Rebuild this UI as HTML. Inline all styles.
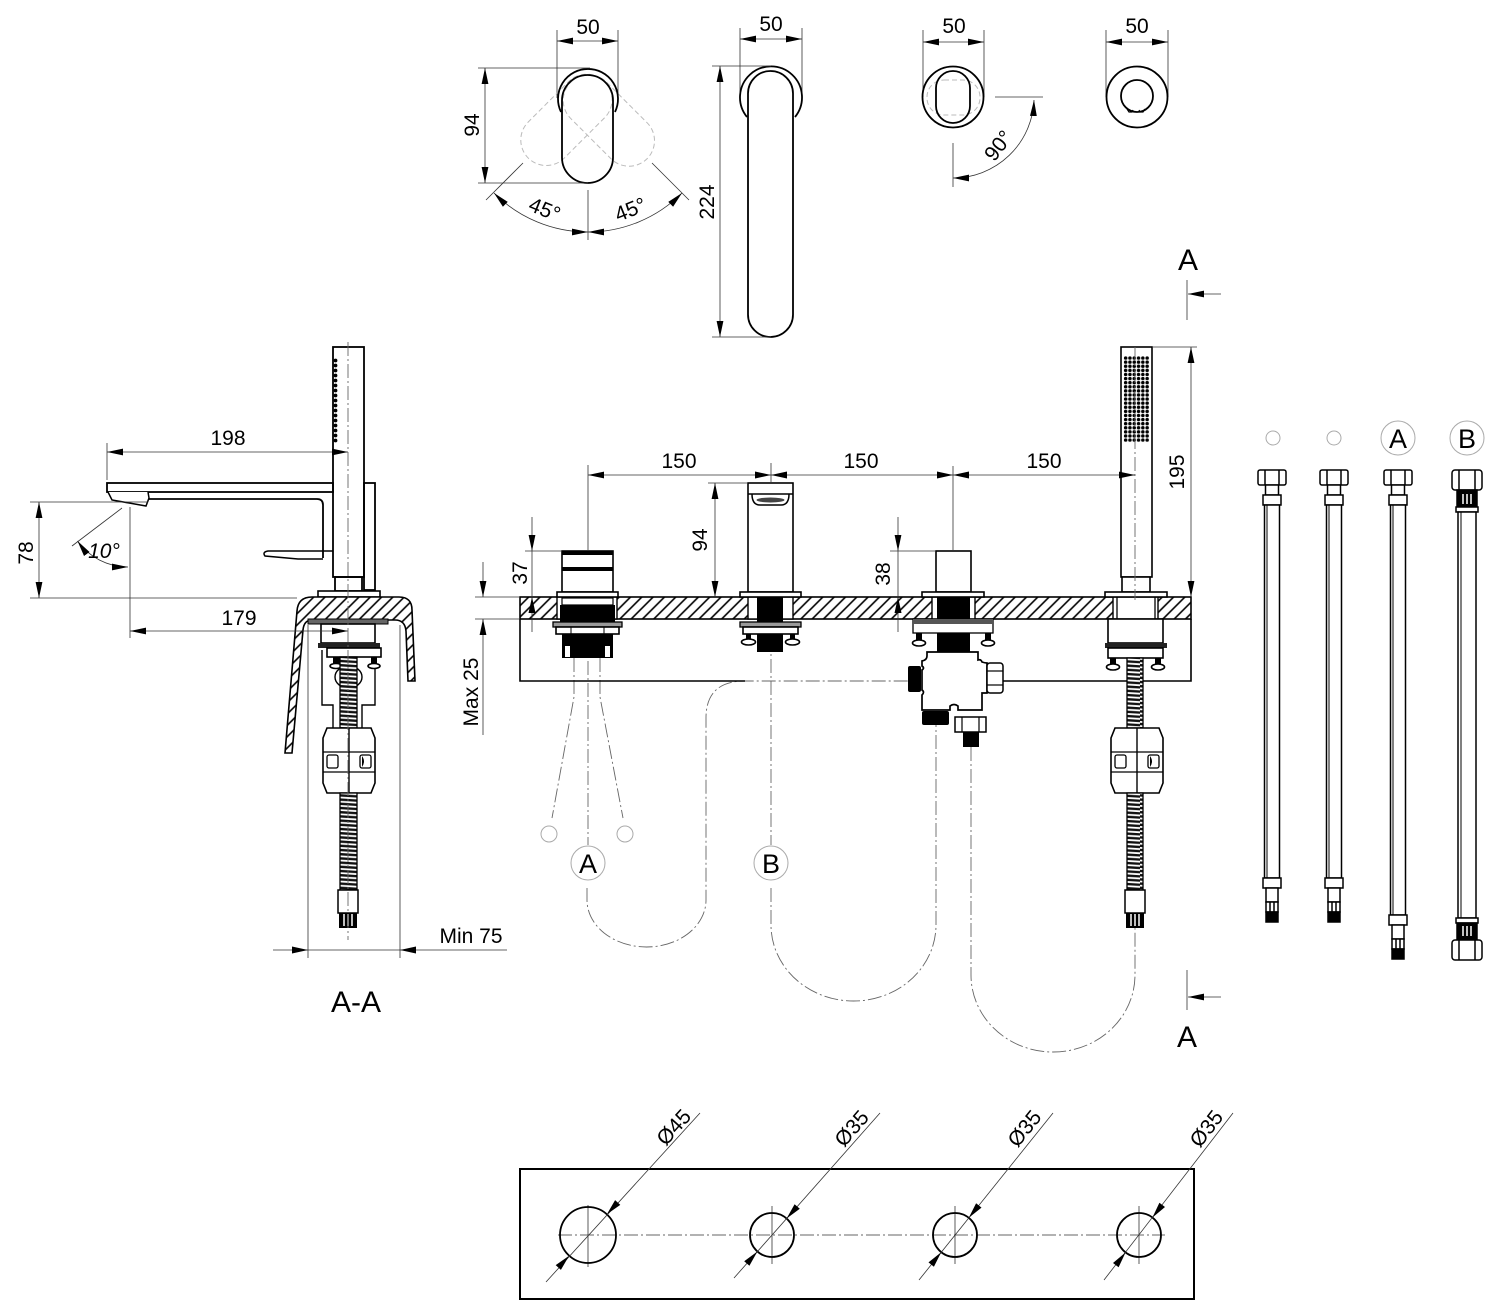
<!DOCTYPE html>
<html><head><meta charset="utf-8"><style>
html,body{margin:0;padding:0;background:#fff}
svg{display:block}
text{font-family:"Liberation Sans",Arial,sans-serif;font-size:21px;fill:#000}
.o{fill:none;stroke:#000;stroke-width:1.8}
.w{fill:#fff;stroke:#000;stroke-width:1.6}
.t{fill:none;stroke:#333;stroke-width:0.8}
.d{fill:none;stroke:#666;stroke-width:0.9;stroke-dasharray:14 3 2 3}
.g{fill:none;stroke:#aaa;stroke-width:1}
.gd{fill:none;stroke:#bbb;stroke-width:1;stroke-dasharray:5 3}
.k{fill:#000}
</style></head><body>
<svg width="1500" height="1301" viewBox="0 0 1500 1301" xmlns="http://www.w3.org/2000/svg">
<defs>
<marker id="a" viewBox="0 0 16 8" refX="16" refY="4" markerWidth="16" markerHeight="8" markerUnits="userSpaceOnUse" orient="auto-start-reverse"><path d="M0,0.6 L16,4 L0,7.4z" fill="#000"/></marker>
<pattern id="h" width="8" height="8" patternUnits="userSpaceOnUse" patternTransform="rotate(45)"><rect width="8" height="8" fill="#fff"/><line x1="4" y1="0" x2="4" y2="8" stroke="#000" stroke-width="1.6"/></pattern>
<pattern id="c" width="20" height="4.2" patternUnits="userSpaceOnUse"><rect width="20" height="4.2" fill="#fff"/><path d="M0,0.4 L20,1.6 L20,4 L0,2.8z" fill="#111"/></pattern>
<pattern id="dt" x="1123.5" y="356" width="4.3" height="4.1" patternUnits="userSpaceOnUse"><circle cx="2.15" cy="2.05" r="1.75" fill="#000"/></pattern>
<pattern id="dt2" x="333" y="358" width="5" height="5" patternUnits="userSpaceOnUse"><circle cx="2.5" cy="2.5" r="1.9" fill="#000"/></pattern>
<g id="barrel">
<path d="M-22,728 H22 L26,738 V783 L22,793 H-22 L-26,783 V738 Z" fill="#fff" stroke="#000" stroke-width="1.6"/>
<line x1="0" y1="728" x2="0" y2="793" stroke="#000" stroke-width="1.4"/>
<line x1="-26" y1="752" x2="26" y2="752" stroke="#000" stroke-width="1.3"/>
<line x1="-26" y1="772" x2="26" y2="772" stroke="#000" stroke-width="1.3"/>
<rect x="-22" y="755" width="11" height="13" rx="2" fill="#fff" stroke="#000" stroke-width="1.3"/>
<rect x="11" y="755" width="11" height="13" rx="2" fill="#fff" stroke="#000" stroke-width="1.3"/>
<path d="M13,756 Q17,761.5 13,767 Z" fill="#000"/>
</g>
<g id="endfit">
<rect x="-10" y="890" width="20" height="23" fill="#fff" stroke="#000" stroke-width="1.5"/>
<rect x="-9" y="913" width="18" height="15" fill="#000"/>
<line x1="-4" y1="914" x2="-4" y2="926" stroke="#fff" stroke-width="1.5"/>
<line x1="0" y1="914" x2="0" y2="926" stroke="#fff" stroke-width="1.5"/>
<line x1="4" y1="914" x2="4" y2="926" stroke="#fff" stroke-width="1.5"/>
</g>
<g id="htop" fill="#fff" stroke="#000" stroke-width="1.5">
<rect x="-14" y="470" width="28" height="15" rx="2"/>
<line x1="-7" y1="470" x2="-7" y2="485"/><line x1="7" y1="470" x2="7" y2="485"/>
<rect x="-6.5" y="485" width="13" height="10"/>
<rect x="-9" y="495" width="18" height="10"/>
</g>
<g id="hbot" fill="#fff" stroke="#000" stroke-width="1.5">
<rect x="-9" y="0" width="18" height="10"/>
<rect x="-6" y="10" width="12" height="14"/>
<rect x="-6" y="24" width="12" height="10"/>
<line x1="-2" y1="24" x2="-2" y2="34"/><line x1="2" y1="24" x2="2" y2="34"/>
<rect x="-6" y="34" width="12" height="10" fill="#000"/>
</g>
</defs>

<!-- ============ TOP VIEWS ============ -->
<line class="t" x1="557" y1="30" x2="557" y2="98"/>
<line class="t" x1="618" y1="30" x2="618" y2="98"/>
<line class="t" x1="557" y1="41" x2="618" y2="41" marker-start="url(#a)" marker-end="url(#a)"/>
<text x="588" y="34" text-anchor="middle">50</text>
<rect class="gd" x="562" y="75" width="51" height="108" rx="25.5" transform="rotate(45 588 99)"/>
<rect class="gd" x="562" y="75" width="51" height="108" rx="25.5" transform="rotate(-45 588 99)"/>
<path class="o" d="M561,112 A30,30 0 1 1 615,112"/>
<rect class="o" x="562" y="75" width="51" height="108" rx="25.5"/>
<line class="t" x1="478" y1="68" x2="590" y2="68"/>
<line class="t" x1="478" y1="183" x2="588" y2="183"/>
<line class="t" x1="485" y1="68" x2="485" y2="183" marker-start="url(#a)" marker-end="url(#a)"/>
<text transform="translate(479,125) rotate(-90)" text-anchor="middle">94</text>
<line class="t" x1="523" y1="163" x2="486" y2="200"/>
<line class="t" x1="652" y1="163" x2="689" y2="200"/>
<line class="t" x1="588" y1="190" x2="588" y2="240"/>
<path class="t" d="M494,193 A133,133 0 0 0 588,232" marker-start="url(#a)" marker-end="url(#a)"/>
<path class="t" d="M588,232 A133,133 0 0 0 682,193" marker-start="url(#a)" marker-end="url(#a)"/>
<text transform="translate(542,216) rotate(22)" text-anchor="middle">45°</text>
<text transform="translate(633,216) rotate(-22)" text-anchor="middle">45°</text>

<line class="t" x1="740" y1="28" x2="740" y2="96"/>
<line class="t" x1="802" y1="28" x2="802" y2="96"/>
<line class="t" x1="740" y1="39" x2="802" y2="39" marker-start="url(#a)" marker-end="url(#a)"/>
<text x="771" y="31" text-anchor="middle">50</text>
<path class="o" d="M747,117 A31,31 0 1 1 795,117"/>
<rect class="o" x="748" y="71" width="45" height="266" rx="22.5"/>
<line class="t" x1="712" y1="66" x2="771" y2="66"/>
<line class="t" x1="712" y1="337" x2="771" y2="337"/>
<line class="t" x1="720" y1="66" x2="720" y2="337" marker-start="url(#a)" marker-end="url(#a)"/>
<text transform="translate(714,202) rotate(-90)" text-anchor="middle">224</text>

<line class="t" x1="923" y1="30" x2="923" y2="97"/>
<line class="t" x1="984" y1="30" x2="984" y2="97"/>
<line class="t" x1="923" y1="42" x2="984" y2="42" marker-start="url(#a)" marker-end="url(#a)"/>
<text x="954" y="33" text-anchor="middle">50</text>
<circle class="o" cx="953" cy="97" r="30.5"/>
<rect class="gd" x="927" y="80" width="53" height="35" rx="17"/>
<rect class="o" x="936" y="71" width="34" height="52" rx="17"/>
<line class="t" x1="995" y1="97" x2="1043" y2="97"/>
<line class="t" x1="953" y1="143" x2="953" y2="187"/>
<path class="t" d="M1034,100 A81,81 0 0 1 953,178" marker-start="url(#a)" marker-end="url(#a)"/>
<text transform="translate(1004,150) rotate(-52)" text-anchor="middle">90°</text>

<line class="t" x1="1106" y1="30" x2="1106" y2="97"/>
<line class="t" x1="1168" y1="30" x2="1168" y2="97"/>
<line class="t" x1="1106" y1="42" x2="1168" y2="42" marker-start="url(#a)" marker-end="url(#a)"/>
<text x="1137" y="33" text-anchor="middle">50</text>
<circle class="o" cx="1137" cy="97" r="30.5"/>
<circle class="o" cx="1137" cy="96" r="16" stroke-width="1.5"/>
<path d="M1127,109 l2,3 h3 l1,-2 M1139,110 l1,2 h3 l2,-3" fill="none" stroke="#000" stroke-width="1.2"/>

<text x="1188" y="270" text-anchor="middle" style="font-size:30px">A</text>
<line class="t" x1="1187" y1="280" x2="1187" y2="320"/>
<line class="t" x1="1221" y1="294" x2="1188" y2="294" marker-end="url(#a)"/>
<line class="t" x1="1187" y1="970" x2="1187" y2="1010"/>
<line class="t" x1="1221" y1="997" x2="1188" y2="997" marker-end="url(#a)"/>
<text x="1187" y="1047" text-anchor="middle" style="font-size:30px">A</text>

<!-- ============ SECTION A-A ============ -->
<rect class="o" x="333" y="347" width="31" height="230" stroke-width="1.6"/>
<rect class="o" x="335" y="577" width="27" height="14" stroke-width="1.5"/>
<rect x="333" y="358" width="5" height="85" fill="url(#dt2)"/>
<rect class="o" x="364" y="483" width="11" height="107" stroke-width="1.5"/>
<rect class="o" x="107" y="483" width="226" height="9" stroke-width="1.6"/>
<path class="o" d="M148,499 H317 Q323,499 323,505 V558" stroke-width="1.5"/>
<path d="M108,492 L112,500 L146,506 L149,498 L148,492" fill="#fff" stroke="#000" stroke-width="1.5"/>
<path d="M333,551 H268 Q262,552 265,556 L298,559 H323" fill="none" stroke="#000" stroke-width="1.5"/>

<line class="t" x1="107" y1="443" x2="107" y2="480"/>
<line class="t" x1="107" y1="452" x2="348" y2="452" marker-start="url(#a)" marker-end="url(#a)"/>
<text x="228" y="445" text-anchor="middle">198</text>
<line class="t" x1="30" y1="502" x2="148" y2="502"/>
<line class="t" x1="30" y1="598" x2="297" y2="598"/>
<line class="t" x1="39" y1="502" x2="39" y2="598" marker-start="url(#a)" marker-end="url(#a)"/>
<text transform="translate(33,553) rotate(-90)" text-anchor="middle">78</text>
<line class="t" x1="122" y1="508" x2="72" y2="546"/>
<path class="t" d="M77.5,541 A62,62 0 0 0 128,567" marker-start="url(#a)" marker-end="url(#a)"/>
<text x="104" y="558" text-anchor="middle" style="font-style:italic">10°</text>
<line class="t" x1="130" y1="507" x2="130" y2="638"/>

<rect class="w" x="318" y="591" width="62" height="6" stroke-width="1.3"/>
<path d="M285,753 L297,611 Q298,597 312,597 L399,597 Q412,597 412,610 L415,681 L408,681 L406,631 Q405,620 395,620 L312,620 Q304,620 303,630 L292,753 Z" fill="url(#h)" stroke="#000" stroke-width="1.6"/>
<rect x="308" y="619" width="80" height="5" fill="#666" stroke="#000" stroke-width="1"/>
<rect class="w" x="321" y="624" width="54" height="19" stroke-width="1.5"/>
<rect x="318" y="643" width="62" height="5" fill="#222"/>
<rect class="w" x="327" y="648" width="54" height="9" stroke-width="1.3"/>
<path d="M322,650 V705 H333 V728 M375,658 V705 H362 V728" fill="none" stroke="#000" stroke-width="1.4"/>
<rect x="333" y="657" width="7" height="7" fill="#000"/><ellipse cx="336" cy="666" rx="6" ry="2.5" class="w" stroke-width="1.2"/>
<rect x="371" y="657" width="6" height="7" fill="#000"/><ellipse cx="374" cy="666" rx="6" ry="2.5" class="w" stroke-width="1.2"/>
<ellipse cx="348.5" cy="677" rx="13.5" ry="11" fill="none" stroke="#000" stroke-width="1.4"/>
<rect x="340" y="657" width="17" height="71" fill="url(#c)" stroke="#000" stroke-width="1.3"/>
<use href="#barrel" x="349"/>
<rect x="340" y="793" width="17" height="97" fill="url(#c)" stroke="#000" stroke-width="1.3"/>
<use href="#endfit" x="348"/>
<line class="t" x1="130" y1="631" x2="348" y2="631" marker-start="url(#a)" marker-end="url(#a)"/>
<text x="239" y="625" text-anchor="middle">179</text>
<line class="d" x1="348" y1="342" x2="348" y2="940"/>
<line class="t" x1="308" y1="625" x2="308" y2="958"/>
<line class="t" x1="400" y1="625" x2="400" y2="958"/>
<line class="t" x1="273" y1="950" x2="507" y2="950"/>
<path d="M308,950 L292,946.5 L292,953.5z M400,950 L416,946.5 L416,953.5z" fill="#000"/>
<text x="471" y="943" text-anchor="middle">Min 75</text>
<text x="356" y="1012" text-anchor="middle" style="font-size:30px">A-A</text>

<!-- ============ MAIN DECK ============ -->
<path class="d" d="M587,888 L587,900 A59.5,47 0 0 0 706,900 L706,718 Q706,681 745,681 H908"/>
<path class="d" d="M771,888 L771,925 A82.5,76 0 0 0 936,925 L936,725"/>
<path class="d" d="M971,747 L971,975 A82,77 0 0 0 1135,975 L1135,928"/>
<path class="d" d="M574,658 V697 L552,818 M600,658 V697 L623,818"/>
<line class="d" x1="588" y1="551" x2="588" y2="845"/>
<line class="d" x1="771" y1="483" x2="771" y2="845"/>
<line class="d" x1="953" y1="551" x2="953" y2="652"/>
<circle class="g" cx="549" cy="834" r="8"/>
<circle class="g" cx="625" cy="834" r="8"/>
<circle class="g" cx="588" cy="863" r="17"/>
<text x="588" y="873" text-anchor="middle" style="font-size:27px">A</text>
<circle class="g" cx="771" cy="863" r="17"/>
<text x="771" y="873" text-anchor="middle" style="font-size:27px">B</text>

<path d="M520,619 V681 H745 M1003,681 H1191 V619" fill="none" stroke="#000" stroke-width="1.6"/>
<rect x="520" y="597" width="671" height="22" fill="url(#h)" stroke="#000" stroke-width="1.6"/>
<rect x="557" y="597" width="60" height="22" fill="#fff" stroke="#000" stroke-width="1.4"/>
<rect x="748" y="597" width="45" height="22" fill="#fff" stroke="#000" stroke-width="1.4"/>
<rect x="932" y="597" width="43" height="22" fill="#fff" stroke="#000" stroke-width="1.4"/>
<rect x="1113" y="597" width="45" height="22" fill="#fff" stroke="#000" stroke-width="1.4"/>

<rect class="w" x="562" y="551" width="51" height="41"/>
<rect x="562" y="551" width="51" height="4" fill="#000"/>
<rect x="562" y="567" width="51" height="4" fill="#000"/>
<rect class="w" x="557" y="592" width="61" height="5" stroke-width="1.4"/>
<rect x="562" y="598" width="51" height="7" fill="#fff" stroke="#000" stroke-width="1.2"/>
<rect x="560" y="605" width="55" height="17" fill="#000"/>
<rect x="553" y="622" width="69" height="5" fill="#999" stroke="#000" stroke-width="1.3"/>
<rect class="w" x="556" y="627" width="63" height="7" stroke-width="1.3"/>
<line x1="571" y1="627" x2="571" y2="634" stroke="#000"/><line x1="604" y1="627" x2="604" y2="634" stroke="#000"/>
<rect x="562" y="634" width="51" height="24" fill="#000"/>
<rect x="565" y="646" width="5" height="11" fill="#fff"/>
<rect x="605" y="646" width="5" height="11" fill="#fff"/>

<rect class="w" x="748" y="483" width="45" height="109"/>
<line x1="748" y1="494" x2="793" y2="494" stroke="#000" stroke-width="1.5"/>
<path d="M752,494 Q752,505 760,505 H781 Q789,505 789,494" fill="none" stroke="#000" stroke-width="1.5"/>
<ellipse cx="770.5" cy="500" rx="14" ry="2.5" fill="#444"/>
<rect class="w" x="740" y="592" width="61" height="5" stroke-width="1.4"/>
<rect x="757" y="597" width="26" height="25" fill="#000"/>
<rect x="740" y="622" width="61" height="5" fill="#999" stroke="#000" stroke-width="1.3"/>
<rect class="w" x="743" y="627" width="55" height="7" stroke-width="1.3"/>
<rect x="757" y="634" width="26" height="18" fill="#000"/>
<rect x="746" y="634" width="5" height="6" fill="#000"/><ellipse cx="748.5" cy="642" rx="7" ry="3" class="w" stroke-width="1.2"/>
<rect x="790" y="634" width="5" height="6" fill="#000"/><ellipse cx="792.5" cy="642" rx="7" ry="3" class="w" stroke-width="1.2"/>

<rect class="w" x="936" y="551" width="35" height="41"/>
<rect class="w" x="922" y="592" width="62" height="5" stroke-width="1.4"/>
<rect x="937" y="597" width="33" height="22" fill="#000"/>
<rect x="913" y="619" width="80" height="14" fill="#fff" stroke="#000" stroke-width="1.3"/>
<rect x="913" y="619" width="80" height="5" fill="#555"/>
<rect x="937" y="633" width="33" height="19" fill="#000"/>
<rect x="916" y="633" width="6" height="8" fill="#000"/><ellipse cx="919" cy="643" rx="6.5" ry="3" class="w" stroke-width="1.2"/>
<rect x="985" y="633" width="6" height="8" fill="#000"/><ellipse cx="988" cy="643" rx="6.5" ry="3" class="w" stroke-width="1.2"/>
<path d="M927,652 H978 V660 Q981,659 982,662 Q985,663 987,663 V693 H982 V710 H958 V706 Q954,703 950,706 V710 H922 V695 Q925,692 922,690 V670 Q925,668 922,666 V661 Q927,660 927,656 Z" fill="#fff" stroke="#000" stroke-width="1.7"/>
<rect x="908" y="666" width="13" height="26" rx="2" fill="#000"/>
<rect x="987" y="663" width="16" height="30" rx="3" fill="#fff" stroke="#000" stroke-width="1.5"/>
<line x1="987" y1="671" x2="1003" y2="671" stroke="#000" stroke-width="1.2"/>
<line x1="987" y1="685" x2="1003" y2="685" stroke="#000" stroke-width="1.2"/>
<rect x="922" y="711" width="27" height="14" rx="2" fill="#000"/>
<rect x="955" y="717" width="31" height="15" fill="#fff" stroke="#000" stroke-width="1.5"/>
<line x1="962" y1="717" x2="962" y2="732" stroke="#000" stroke-width="1.2"/>
<line x1="979" y1="717" x2="979" y2="732" stroke="#000" stroke-width="1.2"/>
<rect x="963" y="732" width="16" height="15" fill="#000"/>

<rect class="w" x="1121" y="347" width="31" height="230"/>
<rect x="1123.5" y="356" width="25.8" height="86.1" fill="url(#dt)"/>
<rect class="w" x="1122" y="577" width="28" height="15" stroke-width="1.5"/>
<rect class="w" x="1105" y="592" width="62" height="5" stroke-width="1.4"/>
<line x1="1117" y1="597" x2="1117" y2="619" stroke="#000" stroke-width="1.3"/>
<line x1="1155" y1="597" x2="1155" y2="619" stroke="#000" stroke-width="1.3"/>
<rect class="w" x="1108" y="619" width="55" height="24" stroke-width="1.5"/>
<rect x="1105" y="643" width="62" height="5" fill="#222"/>
<rect class="w" x="1108" y="648" width="55" height="10" stroke-width="1.3"/>
<rect x="1110" y="658" width="6" height="7" fill="#000"/><ellipse cx="1113" cy="667" rx="6.5" ry="3" class="w" stroke-width="1.2"/>
<rect x="1155" y="658" width="6" height="7" fill="#000"/><ellipse cx="1158" cy="667" rx="6.5" ry="3" class="w" stroke-width="1.2"/>
<rect x="1127" y="658" width="16" height="70" fill="url(#c)" stroke="#000" stroke-width="1.3"/>
<use href="#barrel" x="1137"/>
<rect x="1127" y="793" width="16" height="97" fill="url(#c)" stroke="#000" stroke-width="1.3"/>
<use href="#endfit" x="1135"/>
<line class="d" x1="1135" y1="347" x2="1135" y2="600"/>

<line class="t" x1="588" y1="465" x2="588" y2="551"/>
<line class="t" x1="771" y1="463" x2="771" y2="483"/>
<line class="t" x1="953" y1="466" x2="953" y2="551"/>
<line class="t" x1="588" y1="475" x2="1135" y2="475" marker-start="url(#a)" marker-end="url(#a)"/>
<path d="M771,475 L755,471.5 L755,478.5z M771,475 L787,471.5 L787,478.5z M953,475 L937,471.5 L937,478.5z M953,475 L969,471.5 L969,478.5z" fill="#000"/>
<text x="679" y="468" text-anchor="middle">150</text>
<text x="861" y="468" text-anchor="middle">150</text>
<text x="1044" y="468" text-anchor="middle">150</text>

<line class="t" x1="525" y1="551" x2="562" y2="551"/>
<line class="t" x1="532" y1="517" x2="532" y2="551" marker-end="url(#a)"/>
<line class="t" x1="532" y1="551" x2="532" y2="632"/>
<path d="M532,597 L528.5,613 L535.5,613z" fill="#000"/>
<text transform="translate(527,573) rotate(-90)" text-anchor="middle">37</text>

<line class="t" x1="890" y1="551" x2="936" y2="551"/>
<line class="t" x1="898" y1="517" x2="898" y2="551" marker-end="url(#a)"/>
<line class="t" x1="898" y1="551" x2="898" y2="632"/>
<path d="M898,597 L894.5,613 L901.5,613z" fill="#000"/>
<text transform="translate(890,574) rotate(-90)" text-anchor="middle">38</text>

<line class="t" x1="708" y1="483" x2="748" y2="483"/>
<line class="t" x1="715" y1="483" x2="715" y2="597" marker-start="url(#a)" marker-end="url(#a)"/>
<text transform="translate(707,540) rotate(-90)" text-anchor="middle">94</text>

<line class="t" x1="1152" y1="347" x2="1197" y2="347"/>
<line class="t" x1="1191" y1="347" x2="1191" y2="597" marker-start="url(#a)" marker-end="url(#a)"/>
<text transform="translate(1184,472) rotate(-90)" text-anchor="middle">195</text>

<line class="t" x1="475" y1="597" x2="520" y2="597"/>
<line class="t" x1="475" y1="619" x2="520" y2="619"/>
<line class="t" x1="483" y1="562" x2="483" y2="597" marker-end="url(#a)"/>
<line class="t" x1="483" y1="735" x2="483" y2="619" marker-end="url(#a)"/>
<text transform="translate(478,692) rotate(-90)" text-anchor="middle">Max 25</text>

<!-- ============ RIGHT HOSES ============ -->
<circle class="g" cx="1273" cy="438" r="7"/>
<circle class="g" cx="1334" cy="438" r="7"/>
<circle class="g" cx="1398" cy="438" r="17"/>
<text x="1398" y="448" text-anchor="middle" style="font-size:27px">A</text>
<circle class="g" cx="1467" cy="438" r="17"/>
<text x="1467" y="448" text-anchor="middle" style="font-size:27px">B</text>

<use href="#htop" x="1272"/>
<rect x="1264.5" y="505" width="15" height="373" fill="#fff" stroke="#000" stroke-width="1.5"/>
<line x1="1267" y1="505" x2="1267" y2="878" stroke="#000" stroke-width="1"/>
<use href="#hbot" x="1272" y="878"/>

<use href="#htop" x="1334"/>
<rect x="1326.5" y="505" width="15" height="373" fill="#fff" stroke="#000" stroke-width="1.5"/>
<line x1="1329" y1="505" x2="1329" y2="878" stroke="#000" stroke-width="1"/>
<use href="#hbot" x="1334" y="878"/>

<use href="#htop" x="1398"/>
<rect x="1390.5" y="505" width="15" height="410" fill="#fff" stroke="#000" stroke-width="1.5"/>
<line x1="1393" y1="505" x2="1393" y2="915" stroke="#000" stroke-width="1"/>
<use href="#hbot" x="1398" y="915"/>

<g fill="#fff" stroke="#000" stroke-width="1.5">
<rect x="1452" y="470" width="30" height="20" rx="3"/>
<line x1="1459" y1="470" x2="1459" y2="490"/><line x1="1475" y1="470" x2="1475" y2="490"/>
<rect x="1457" y="490" width="20" height="17" fill="#000"/>
<rect x="1456" y="507" width="22" height="5"/>
<rect x="1458" y="512" width="18" height="406"/>
<line x1="1461" y1="512" x2="1461" y2="918" stroke-width="1"/>
<rect x="1456" y="918" width="22" height="5"/>
<rect x="1457" y="923" width="20" height="17" fill="#000"/>
<rect x="1452" y="940" width="30" height="20" rx="3"/>
<line x1="1459" y1="940" x2="1459" y2="960"/><line x1="1475" y1="940" x2="1475" y2="960"/>
</g>
<path d="M1463,494 V504 M1467,494 V504 M1471,494 V504 M1463,926 V936 M1467,926 V936 M1471,926 V936" stroke="#fff" stroke-width="1.5"/>

<!-- ============ BOTTOM PLATE ============ -->
<rect x="520" y="1169" width="674" height="130" fill="none" stroke="#000" stroke-width="2"/>
<line class="d" x1="558" y1="1235" x2="1165" y2="1235"/>
<line class="t" x1="588" y1="1205" x2="588" y2="1267"/>
<line class="t" x1="772" y1="1206" x2="772" y2="1264"/>
<line class="t" x1="955" y1="1206" x2="955" y2="1264"/>
<line class="t" x1="1139" y1="1206" x2="1139" y2="1264"/>
<circle class="o" cx="588" cy="1235" r="28"/>
<circle class="o" cx="772" cy="1235" r="22"/>
<circle class="o" cx="955" cy="1235" r="22"/>
<circle class="o" cx="1139" cy="1235" r="22"/>
<line class="t" x1="546" y1="1282" x2="700" y2="1113"/>
<line class="t" x1="734" y1="1278" x2="880" y2="1113"/>
<line class="t" x1="919" y1="1280" x2="1053" y2="1113"/>
<line class="t" x1="1104" y1="1280" x2="1233" y2="1113"/>
<path fill="#000" d="M606.9,1214.3 L620.3,1204.9 L615.1,1200.1z M569.1,1255.7 L560.9,1269.9 L555.7,1265.1z
M786.6,1218.5 L799.8,1208.8 L794.6,1204.2z M757.4,1251.5 L749.4,1265.8 L744.2,1261.2z
M968.8,1217.8 L981.5,1207.6 L976.1,1203.2z M941.2,1252.2 L933.9,1266.8 L928.5,1262.4z
M1152.4,1217.6 L1165,1207 L1159.4,1202.8z M1125.6,1252.4 L1118.6,1267.2 L1113,1263z"/>
<text transform="translate(679,1132) rotate(-48)" text-anchor="middle">Ø45</text>
<text transform="translate(857,1133) rotate(-49)" text-anchor="middle">Ø35</text>
<text transform="translate(1030,1133) rotate(-51)" text-anchor="middle">Ø35</text>
<text transform="translate(1212,1133) rotate(-52)" text-anchor="middle">Ø35</text>
</svg>
</body></html>
